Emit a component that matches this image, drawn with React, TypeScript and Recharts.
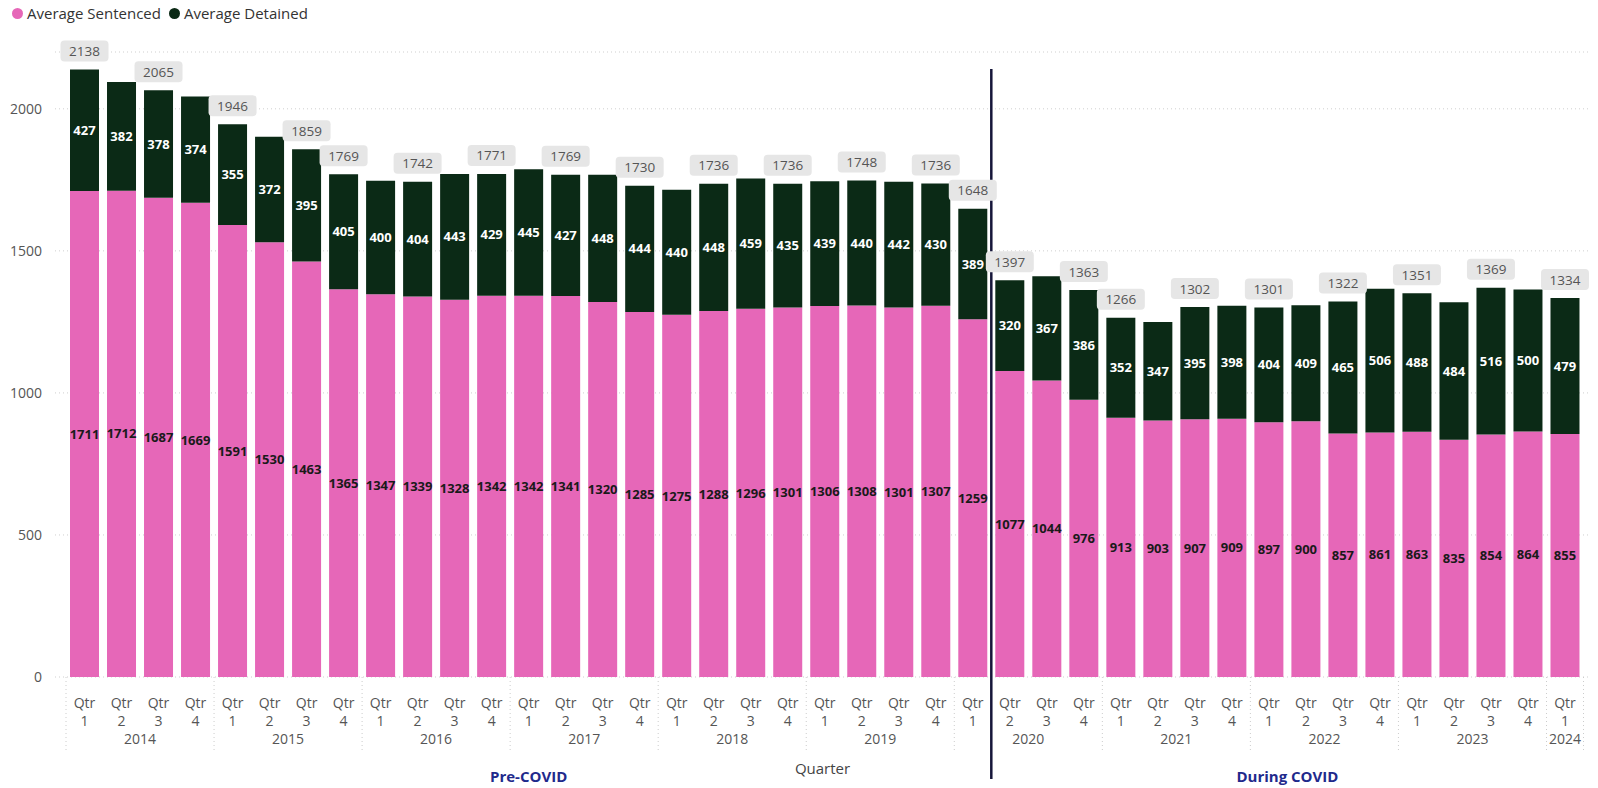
import React from "react";
import {
  BarChart,
  Bar,
  XAxis,
  YAxis,
  CartesianGrid,
  LabelList,
  ReferenceArea,
} from "recharts";

const FONT = "'Segoe UI', 'Open Sans', sans-serif";
const PINK = "#E667B8";
const GREEN = "#0B2A16";

// quarter keys, one per bar
const periods = [
  "2014 Q1", "2014 Q2", "2014 Q3", "2014 Q4",
  "2015 Q1", "2015 Q2", "2015 Q3", "2015 Q4",
  "2016 Q1", "2016 Q2", "2016 Q3", "2016 Q4",
  "2017 Q1", "2017 Q2", "2017 Q3", "2017 Q4",
  "2018 Q1", "2018 Q2", "2018 Q3", "2018 Q4",
  "2019 Q1", "2019 Q2", "2019 Q3", "2019 Q4",
  "2020 Q1", "2020 Q2", "2020 Q3", "2020 Q4",
  "2021 Q1", "2021 Q2", "2021 Q3", "2021 Q4",
  "2022 Q1", "2022 Q2", "2022 Q3", "2022 Q4",
  "2023 Q1", "2023 Q2", "2023 Q3", "2023 Q4",
  "2024 Q1",
];

const sentenced = [
  1711, 1712, 1687, 1669, 1591, 1530, 1463, 1365, 1347, 1339, 1328, 1342,
  1342, 1341, 1320, 1285, 1275, 1288, 1296, 1301, 1306, 1308, 1301, 1307,
  1259, 1077, 1044, 976, 913, 903, 907, 909, 897, 900, 857, 861, 863, 835,
  854, 864, 855,
];

const detained = [
  427, 382, 378, 374, 355, 372, 395, 405, 400, 404, 443, 429, 445, 427, 448,
  444, 440, 448, 459, 435, 439, 440, 442, 430, 389, 320, 367, 386, 352, 347,
  395, 398, 404, 409, 465, 506, 488, 484, 516, 500, 479,
];

// totals printed above the bars (the rest are hidden to avoid overlap)
const totalLabels = [
  2138, null, 2065, null, 1946, null, 1859, 1769, null, 1742, null, 1771,
  null, 1769, null, 1730, null, 1736, null, 1736, null, 1748, null, 1736,
  1648, 1397, null, 1363, 1266, null, 1302, null, 1301, null, 1322, null,
  1351, null, 1369, null, 1334,
];

const years = [
  { year: "2014", from: "2014 Q1", to: "2014 Q4" },
  { year: "2015", from: "2015 Q1", to: "2015 Q4" },
  { year: "2016", from: "2016 Q1", to: "2016 Q4" },
  { year: "2017", from: "2017 Q1", to: "2017 Q4" },
  { year: "2018", from: "2018 Q1", to: "2018 Q4" },
  { year: "2019", from: "2019 Q1", to: "2019 Q4" },
  { year: "2020", from: "2020 Q1", to: "2020 Q4" },
  { year: "2021", from: "2021 Q1", to: "2021 Q4" },
  { year: "2022", from: "2022 Q1", to: "2022 Q4" },
  { year: "2023", from: "2023 Q1", to: "2023 Q4" },
  { year: "2024", from: "2024 Q1", to: "2024 Q1" },
];

const phases = [
  { name: "Pre-COVID", from: "2014 Q1", to: "2020 Q1" },
  { name: "During COVID", from: "2020 Q2", to: "2024 Q1" },
];

const yTicks = [0, 500, 1000, 1500, 2000];

const data = periods.map((p, i) => ({
  period: p,
  sentenced: sentenced[i],
  detained: detained[i],
  total: totalLabels[i],
}));

const QuarterTick = (props: any) => {
  const { x, y, payload } = props;
  const q = String(payload.value).split(" Q")[1];
  return (
    <g>
      <text x={x} y={y + 31} textAnchor="middle" fontSize={14} fill="#555" fontFamily={FONT}>
        Qtr
      </text>
      <text x={x} y={y + 49} textAnchor="middle" fontSize={14} fill="#555" fontFamily={FONT}>
        {q}
      </text>
    </g>
  );
};

const TotalBox = (props: any) => {
  const { x, y, width, value } = props;
  if (value == null) return null;
  const cx = x + width / 2;
  const bottom = y - 8;
  return (
    <g>
      <rect x={cx - 24} y={bottom - 21} width={48} height={21} rx={4} fill="#E6E6E6" />
      <text
        x={cx}
        y={bottom - 5.5}
        textAnchor="middle"
        fontSize={13.5}
        fill="#555"
        fontFamily={FONT}
      >
        {value}
      </text>
    </g>
  );
};

const yearLabel = (year: string, last: boolean) => (props: any) => {
  const vb = props.viewBox;
  const bottom = vb.y + vb.height;
  const sep = (sx: number) => (
    <line x1={sx} x2={sx} y1={bottom} y2={bottom + 75} stroke="#ccc" strokeDasharray="1 3" />
  );
  return (
    <g>
      {sep(vb.x)}
      {last && sep(vb.x + vb.width)}
      <text
        x={vb.x + vb.width / 2}
        y={bottom + 67}
        textAnchor="middle"
        fontSize={14}
        fill="#555"
        fontFamily={FONT}
      >
        {year}
      </text>
    </g>
  );
};

const phaseLabel = (name: string, divider: boolean) => (props: any) => {
  const vb = props.viewBox;
  const bottom = vb.y + vb.height;
  return (
    <g>
      {divider && (
        <line x1={vb.x} x2={vb.x} y1={69} y2={779} stroke="#16163A" strokeWidth={2.5} />
      )}
      <text
        x={vb.x + vb.width / 2}
        y={bottom + 105}
        textAnchor="middle"
        fontSize={15}
        fontWeight={700}
        fill="#1F2A8C"
        fontFamily={FONT}
      >
        {name}
      </text>
    </g>
  );
};

export default function App() {
  return (
    <div style={{ position: "absolute", left: 0, top: 0, width: 1598, height: 788, background: "#fff" }}>
      <div
        style={{
          position: "absolute",
          left: 12,
          top: 3,
          display: "flex",
          alignItems: "center",
          fontFamily: FONT,
          fontSize: 15,
          color: "#333",
          zIndex: 2,
        }}
      >
        <span style={{ width: 11, height: 11, borderRadius: 6, background: PINK, marginRight: 4 }} />
        <span style={{ marginRight: 8 }}>Average Sentenced</span>
        <span style={{ width: 11, height: 11, borderRadius: 6, background: GREEN, marginRight: 4 }} />
        <span>Average Detained</span>
      </div>
      <BarChart
        width={1598}
        height={788}
        data={data}
        margin={{ top: 52, right: 8, left: 0, bottom: 0 }}
      >
        <CartesianGrid vertical={false} stroke="#cfcfcf" strokeDasharray="1 3" />
        <YAxis
          width={55}
          domain={[0, 2200]}
          ticks={yTicks}
          axisLine={false}
          tickLine={false}
          tickSize={0}
          tickMargin={13}
          tick={{ fill: "#555", fontSize: 14, fontFamily: FONT }}
        />
        <XAxis
          dataKey="period"
          height={111}
          interval={0}
          axisLine={false}
          tickLine={false}
          tickSize={0}
          tickMargin={0}
          padding={{ left: 11, right: 6.5 }}
          tick={<QuarterTick />}
          label={{
            value: "Quarter",
            position: "insideBottom",
            offset: 14,
            fill: "#444",
            fontSize: 15,
            fontFamily: FONT,
          }}
        />
        {years.map((y, i) => (
          <ReferenceArea
            key={y.year}
            x1={y.from}
            x2={y.to}
            ifOverflow="visible"
            fillOpacity={0}
            strokeOpacity={0}
            label={yearLabel(y.year, i === years.length - 1)}
          />
        ))}
        {phases.map((p, i) => (
          <ReferenceArea
            key={p.name}
            x1={p.from}
            x2={p.to}
            ifOverflow="visible"
            fillOpacity={0}
            strokeOpacity={0}
            label={phaseLabel(p.name, i === 1)}
          />
        ))}
        <Bar dataKey="sentenced" stackId="a" fill={PINK} barSize={29} isAnimationActive={false}>
          <LabelList
            dataKey="sentenced"
            position="center"
            fill="#1a1a1a"
            fontSize={13}
            fontWeight={700}
            fontFamily={FONT}
          />
        </Bar>
        <Bar dataKey="detained" stackId="a" fill={GREEN} barSize={29} isAnimationActive={false}>
          <LabelList
            dataKey="detained"
            position="center"
            fill="#fff"
            fontSize={13}
            fontWeight={700}
            fontFamily={FONT}
          />
          <LabelList dataKey="total" content={<TotalBox />} />
        </Bar>
      </BarChart>
    </div>
  );
}
